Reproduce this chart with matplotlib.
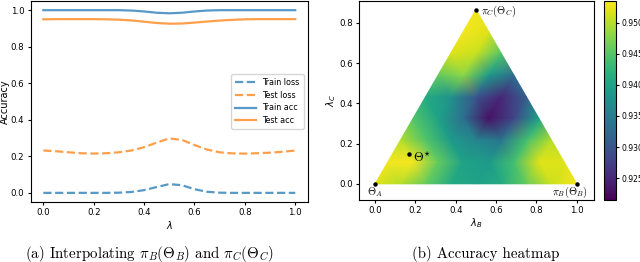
import numpy as np
import matplotlib
matplotlib.use("Agg")
import matplotlib.pyplot as plt
import matplotlib.tri as mtri

# ---- (a) interpolation curves ----
lam = [0.0, 0.05, 0.1, 0.15, 0.2, 0.25, 0.3, 0.35, 0.4, 0.45, 0.5,
       0.55, 0.6, 0.65, 0.7, 0.75, 0.8, 0.85, 0.9, 0.95, 1.0]
train_loss = [0.0, 0.0, 0.0, 0.0, 0.0, 0.0, 0.001, 0.005, 0.015, 0.032, 0.048,
              0.042, 0.02, 0.006, 0.001, 0.0, 0.0, 0.0, 0.0, 0.0, 0.0]
test_loss = [0.232, 0.228, 0.222, 0.217, 0.215, 0.217, 0.222, 0.232, 0.25, 0.275, 0.298,
             0.29, 0.262, 0.237, 0.222, 0.216, 0.215, 0.217, 0.22, 0.225, 0.232]
train_acc = [1.0, 1.0, 1.0, 1.0, 1.0, 1.0, 1.0, 0.998, 0.993, 0.986, 0.983,
             0.986, 0.993, 0.998, 1.0, 1.0, 1.0, 1.0, 1.0, 1.0, 1.0]
test_acc = [0.95, 0.951, 0.951, 0.951, 0.951, 0.95, 0.948, 0.944, 0.937, 0.93, 0.926,
            0.927, 0.932, 0.938, 0.943, 0.947, 0.95, 0.951, 0.951, 0.951, 0.951]

# ---- (b) accuracy on the triangle, rows from bottom (lambda_C) to top ----
rows = [
    [0.952, 0.950, 0.946, 0.941, 0.940, 0.941, 0.946, 0.951, 0.953],
    [0.953, 0.953, 0.946, 0.940, 0.939, 0.944, 0.952, 0.952],
    [0.950, 0.945, 0.939, 0.936, 0.934, 0.944, 0.950],
    [0.945, 0.940, 0.933, 0.923, 0.928, 0.940],
    [0.941, 0.938, 0.930, 0.925, 0.931],
    [0.946, 0.948, 0.939, 0.933],
    [0.952, 0.951, 0.945],
    [0.953, 0.952],
    [0.953],
]
n = 8
px, py, pv = [], [], []
for j, row in enumerate(rows):
    for i, v in enumerate(row):
        px.append(i / n + j / (2 * n))
        py.append(j / n * np.sqrt(3) / 2)
        pv.append(v)

fig = plt.figure(figsize=(6.4, 2.62), dpi=100)

ax1 = fig.add_axes([0.048, 0.229, 0.433, 0.767])
ax1.plot(lam, train_loss, "--", color="#1f77b4", lw=1.6, alpha=0.75, label="Train loss")
ax1.plot(lam, test_loss, "--", color="#ff7f0e", lw=1.6, alpha=0.75, label="Test loss")
ax1.plot(lam, train_acc, "-", color="#1f77b4", lw=1.6, alpha=0.75, label="Train acc")
ax1.plot(lam, test_acc, "-", color="#ff7f0e", lw=1.6, alpha=0.75, label="Test acc")
ax1.set_xlabel(r"$\lambda$", fontsize=7, labelpad=1)
ax1.set_ylabel("Accuracy", fontsize=7, labelpad=1)
ax1.tick_params(labelsize=6.2, length=2.5, pad=2)
ax1.legend(loc="center right", fontsize=5.8, handlelength=2.6, borderpad=0.5, labelspacing=0.45)

ax2 = fig.add_axes([0.561, 0.237, 0.367, 0.760])
tri = mtri.Triangulation(px, py)
tp = ax2.tripcolor(tri, pv, shading="gouraud", cmap="viridis", vmin=0.9215, vmax=0.9535)
ax2.set_xlim(-0.08, 1.085)
ax2.set_ylim(-0.08, 0.91)
ax2.set_xlabel(r"$\lambda_B$", fontsize=7, labelpad=1)
ax2.set_ylabel(r"$\lambda_C$", fontsize=7, labelpad=1)
ax2.tick_params(labelsize=6.2, length=2.5, pad=2)
ax2.set_xticks([0.0, 0.2, 0.4, 0.6, 0.8, 1.0])
ax2.set_yticks([0.0, 0.2, 0.4, 0.6, 0.8])

ax2.plot([0, 1, 0.5, 0.169], [0, 0, np.sqrt(3) / 2, 0.147], "o", color="black", ms=2.2)
ax2.text(0.0, -0.04, r"$\Theta_A$", fontsize=7.5, ha="center", va="center", math_fontfamily="cm")
ax2.text(1.055, -0.04, r"$\pi_B(\Theta_B)$", fontsize=7.5, ha="right", va="center", math_fontfamily="cm")
ax2.text(0.525, 0.859, r"$\pi_C(\Theta_C)$", fontsize=7.5, ha="left", va="center", math_fontfamily="cm")
ax2.text(0.19, 0.128, r"$\Theta^{\star}$", fontsize=9, ha="left", va="center", math_fontfamily="cm")

cax = fig.add_axes([0.944, 0.237, 0.019, 0.760])
cb = fig.colorbar(tp, cax=cax)
cb.set_ticks([0.925, 0.930, 0.935, 0.940, 0.945, 0.950])
cb.ax.tick_params(labelsize=5.5, length=2, pad=1.5)
cb.outline.set_linewidth(0.8)

fig.text(0.039, 0.032, r"(a) Interpolating $\pi_B(\Theta_B)$ and $\pi_C(\Theta_C)$",
         fontsize=10.8, family="cmr10", math_fontfamily="cm", va="center")
fig.text(0.644, 0.032, "(b) Accuracy heatmap", fontsize=10.8, family="cmr10", va="center")

fig.savefig("out.png", dpi=100)
